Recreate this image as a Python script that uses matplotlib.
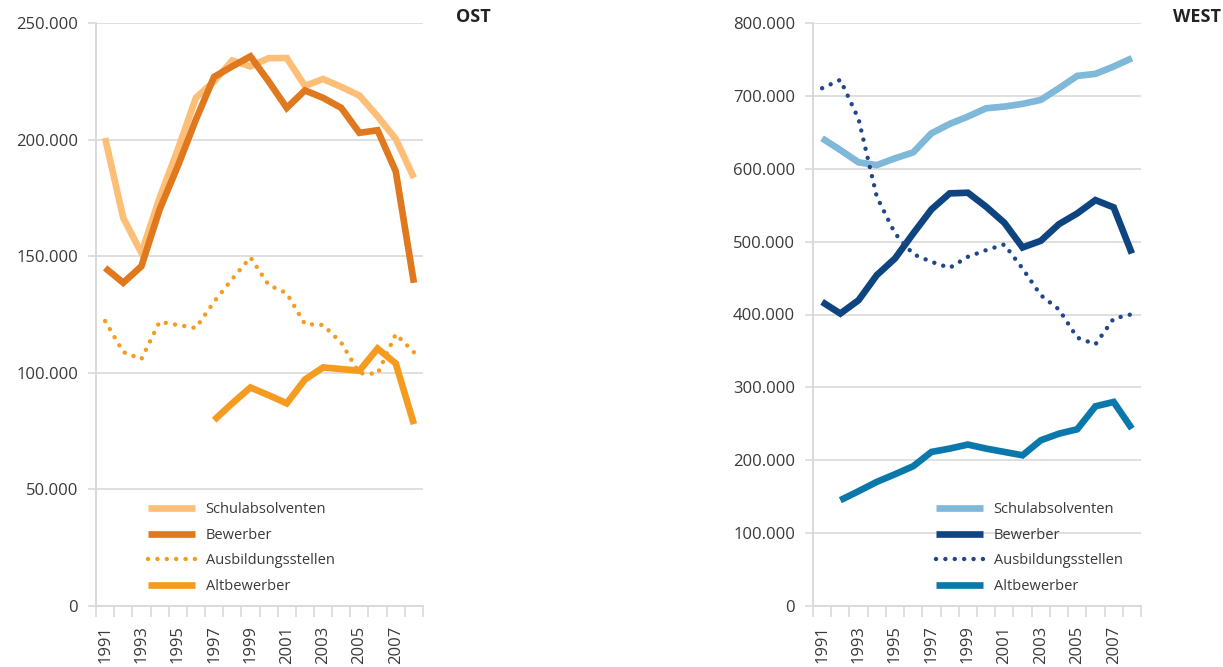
import matplotlib
matplotlib.use("Agg")
import matplotlib.pyplot as plt
from matplotlib.ticker import FuncFormatter, FixedLocator

plt.rcParams["font.family"] = ["Open Sans", "DejaVu Sans"]

# ── Daten ────────────────────────────────────────────────────────────────────
years = list(range(1991, 2009))
year_labels = [str(y) if y % 2 == 1 else "" for y in years]

# Ost
ost_schul = [200700, 166400, 151400, 175000, 195700, 217900, 225000, 233900, 231400,
             234900, 235000, 223000, 226000, 222600, 218900, 210000, 200300, 183600]
ost_bew = [145000, 138600, 145700, 170000, 188600, 208600, 226900, 231400, 235700,
           225000, 213600, 221100, 217900, 213600, 202900, 204000, 186400, 138600]
ost_ausb = [122200, 108900, 105900, 121900, 120500, 119200, 130500, 140200, 149500,
            137700, 134100, 120900, 120500, 112900, 99800, 99600, 116600, 108800]
ost_alt = [None, None, None, None, None, None, 79700, 86900, 93700,
           90400, 86900, 97100, 102300, 101600, 100900, 110400, 104000, 78000]

# West
west_schul = [641800, 625700, 608800, 605000, 614300, 622500, 648600, 661500, 671600,
              683000, 685300, 689000, 694500, 710500, 727400, 730200, 740300, 751700]
west_bew = [417300, 401300, 419600, 454000, 476900, 511200, 544200, 566200, 567100,
            547900, 525900, 492000, 501100, 524000, 538700, 557000, 547000, 483700]
west_ausb = [710500, 722000, 668300, 561600, 511200, 482800, 472300, 464000, 479200,
             488300, 496100, 463100, 426500, 406800, 368300, 359100, 394400, 400400]
west_alt = [None, 145200, 157500, 170300, 180800, 191800, 211400, 216000, 221500,
            216000, 211400, 206800, 227400, 236500, 242500, 274000, 280000, 243400]

series_names = ["Schulabsolventen", "Bewerber", "Ausbildungsstellen", "Altbewerber"]

OST_COLORS = ["#fdbf78", "#e0781e", "#f59b1f", "#f59b1f"]
WEST_COLORS = ["#7fb8d9", "#0e4480", "#21478a", "#0a78aa"]

GRID = "#d9d9d9"
TEXT = "#3a3a3a"


def fmt(v, pos):
    return f"{int(v):,}".replace(",", ".")


def draw_panel(ax, data, colors, ymax, ystep, title, title_x, legend_x):
    x = list(range(len(years)))
    for vals, col, name in zip(data, colors, series_names):
        xs = [i for i, v in zip(x, vals) if v is not None]
        ys = [v for v in vals if v is not None]
        if name == "Ausbildungsstellen":
            ax.plot(xs, ys, color=col, lw=3.2, linestyle=(0, (0.01, 2.1)),
                    dash_capstyle="round", label=name, zorder=3)
        else:
            ax.plot(xs, ys, color=col, lw=4.8, solid_capstyle="butt",
                    solid_joinstyle="miter", label=name, zorder=2)

    ax.set_xlim(-0.5, len(years) - 0.5)
    ax.set_ylim(0, ymax)
    ax.set_yticks(range(0, ymax + 1, ystep))
    ax.yaxis.set_major_formatter(FuncFormatter(fmt))
    ax.grid(axis="y", color=GRID, lw=1.2)
    ax.set_axisbelow(True)

    ax.xaxis.set_major_locator(FixedLocator(x))
    ax.set_xticklabels(year_labels, rotation=90)
    ax.xaxis.set_minor_locator(FixedLocator([i - 0.5 for i in range(len(years) + 1)]))
    ax.tick_params(axis="x", which="major", length=0, pad=14,
                   labelsize=12, labelcolor=TEXT)
    ax.tick_params(axis="x", which="minor", length=8, width=1.2,
                   color=GRID, direction="out")
    ax.tick_params(axis="y", length=6, width=1.2, color=GRID, pad=7,
                   labelsize=12, labelcolor=TEXT)

    for side in ("top", "right"):
        ax.spines[side].set_visible(False)
    for side in ("left", "bottom"):
        ax.spines[side].set_color(GRID)
        ax.spines[side].set_linewidth(1.4)

    leg = ax.legend(loc="upper left", bbox_to_anchor=(legend_x, 0.178),
                    frameon=False, fontsize=10.5, borderpad=0, borderaxespad=0,
                    handlelength=3.2, handletextpad=0.75, labelspacing=0.72)
    for t in leg.get_texts():
        t.set_color(TEXT)

    fig.text(title_x, 1 - 17 / 667, title, fontsize=13, fontweight="bold",
             color="#222222", ha="left", va="center")


fig = plt.figure(figsize=(12.23, 6.67), dpi=100)
ax_ost = fig.add_axes([96 / 1223, 1 - 606 / 667, 327 / 1223, 583 / 667])
ax_west = fig.add_axes([813 / 1223, 1 - 606 / 667, 328 / 1223, 583 / 667])

draw_panel(ax_ost, [ost_schul, ost_bew, ost_ausb, ost_alt], OST_COLORS,
           250000, 50000, "OST", 456 / 1223, 0.159)
draw_panel(ax_west, [west_schul, west_bew, west_ausb, west_alt], WEST_COLORS,
           800000, 100000, "WEST", 1173 / 1223, 0.375)

fig.savefig("out.png", dpi=100)
